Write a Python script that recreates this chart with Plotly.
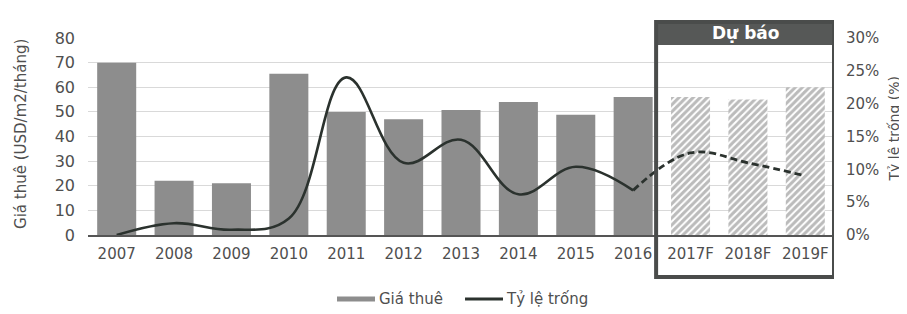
import plotly.graph_objects as go

years = ["2007", "2008", "2009", "2010", "2011", "2012", "2013", "2014", "2015", "2016",
         "2017F", "2018F", "2019F"]
rent = [70, 22, 21, 65.5, 50, 47, 50.8, 54, 48.8, 56, 56, 55, 60]
vacancy = [0, 1.8, 0.8, 2.5, 24, 11, 14.5, 6.2, 10.4, 6.8, 12.5, 11, 9]
n_actual = 10  # 2007-2016 actual, rest forecast

left_ticks = [0, 10, 20, 30, 40, 50, 60, 70, 80]
right_ticks = [0, 5, 10, 15, 20, 25, 30]
right_labels = [f"{v}%" for v in right_ticks]

font = "DejaVu Sans, Verdana, sans-serif"
txt = "#4f4f4f"
bar_color = "#8d8d8d"
line_color = "#2b322e"
box_color = "#4a4c4b"

fig = go.Figure()
fig.add_trace(go.Bar(
    x=years[:n_actual], y=rent[:n_actual], name="Giá thuê", showlegend=False,
    marker=dict(color=bar_color, line=dict(width=0)),
))
fig.add_trace(go.Bar(
    x=years[n_actual:], y=rent[n_actual:], name="Giá thuê (dự báo)", showlegend=False,
    marker=dict(color="white", line=dict(width=0),
                pattern=dict(shape="/", fgcolor="#777777", bgcolor="white",
                             size=5, solidity=0.6)),
))
fig.add_trace(go.Scatter(
    x=years[:n_actual], y=vacancy[:n_actual], name="Tỷ lệ trống", yaxis="y2",
    showlegend=False, mode="lines",
    line=dict(color=line_color, width=2.6, shape="spline", smoothing=1.1),
))
fig.add_trace(go.Scatter(
    x=years[n_actual - 1:], y=vacancy[n_actual - 1:], name="Tỷ lệ trống (dự báo)",
    yaxis="y2", showlegend=False, mode="lines",
    line=dict(color=line_color, width=2.8, dash="7px,4px", shape="spline", smoothing=1.1),
))

# Forecast box
fig.add_shape(type="rect", xref="x", yref="paper", x0=9.4, x1=12.5, y0=0.964, y1=1.081,
              line=dict(width=0), fillcolor="#565857", layer="above")
fig.add_shape(type="rect", xref="x", yref="paper", x0=9.4, x1=12.5, y0=-0.213, y1=1.081,
              line=dict(color=box_color, width=4), fillcolor="rgba(0,0,0,0)", layer="above")
fig.add_annotation(text="<b>Dự báo</b>", xref="x", yref="paper", x=10.95, y=1.024,
                   yanchor="middle", showarrow=False,
                   font=dict(family=font, size=17, color="white"))

# Axis titles
fig.add_annotation(text="Giá thuê (USD/m2/tháng)", xref="paper", yref="paper",
                   x=-0.0898, y=0.513, textangle=-90, showarrow=False,
                   xanchor="center", yanchor="middle",
                   font=dict(family=font, size=15, color=txt))
fig.add_annotation(text="Tỷ lệ trống (%)", xref="paper", yref="paper",
                   x=1.081, y=0.543, textangle=-90, showarrow=False,
                   xanchor="center", yanchor="middle",
                   font=dict(family=font, size=14, color=txt))

# Legend (drawn manually to match the wide swatches)
fig.add_shape(type="rect", xref="paper", yref="paper", x0=0.3338, x1=0.3847,
              y0=-0.338, y1=-0.312, line=dict(width=0), fillcolor=bar_color)
fig.add_annotation(text="Giá thuê", xref="paper", yref="paper", x=0.3874, y=-0.325,
                   xanchor="left", yanchor="middle", showarrow=False,
                   font=dict(family=font, size=15, color=txt))
fig.add_shape(type="line", xref="paper", yref="paper", x0=0.5054, x1=0.5563,
              y0=-0.325, y1=-0.325, line=dict(color=line_color, width=3))
fig.add_annotation(text="Tỷ lệ trống", xref="paper", yref="paper", x=0.5576, y=-0.325,
                   xanchor="left", yanchor="middle", showarrow=False,
                   font=dict(family=font, size=15, color=txt))

fig.update_layout(
    width=899, height=306,
    margin=dict(l=80, r=73, t=30, b=79, autoexpand=False),
    paper_bgcolor="white", plot_bgcolor="white",
    barmode="overlay", bargap=0.32,
    font=dict(family=font, size=16, color=txt),
    showlegend=False,
    xaxis=dict(type="category", categoryorder="array", categoryarray=years,
               range=[-0.5, 12.5], showgrid=False, showline=True, linecolor="#555555",
               linewidth=1.5, ticks="", automargin=False, ticklabelstandoff=4,
               tickfont=dict(family=font, size=15, color=txt)),
    yaxis=dict(range=[0, 80], tickvals=left_ticks, showgrid=True, gridcolor="#d9d9d9",
               gridwidth=1, zeroline=False, ticks="", automargin=False,
               ticklabelstandoff=12, tickfont=dict(family=font, size=16, color=txt)),
    yaxis2=dict(range=[0, 30], overlaying="y", side="right", tickvals=right_ticks,
                ticktext=right_labels, showgrid=False, zeroline=False, ticks="",
                automargin=False, ticklabelstandoff=11,
                tickfont=dict(family=font, size=15, color=txt)),
)

fig.write_html("out.html")
